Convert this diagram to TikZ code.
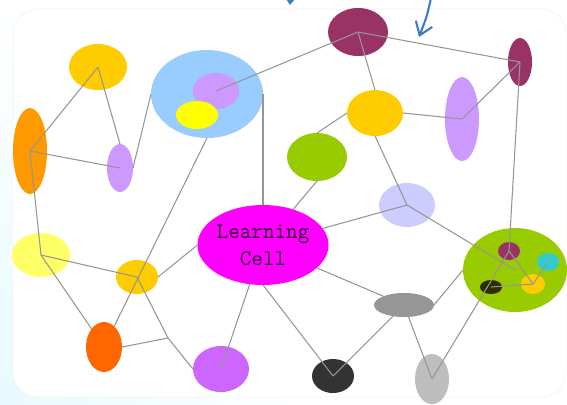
\documentclass[tikz,border=0pt]{standalone}
\usepackage{tikz}
\usetikzlibrary{shapes.geometric, arrows.meta}
\definecolor{goldc}{RGB}{255,204,0}
\definecolor{orngc}{RGB}{255,153,0}
\definecolor{lavc}{RGB}{204,153,255}
\definecolor{skyc}{RGB}{153,204,255}
\definecolor{yelc}{RGB}{255,255,0}
\definecolor{plumc}{RGB}{153,51,102}
\definecolor{limec}{RGB}{153,204,0}
\definecolor{peric}{RGB}{204,204,255}
\definecolor{magc}{RGB}{255,0,255}
\definecolor{paleyc}{RGB}{255,255,102}
\definecolor{cyanc}{RGB}{51,204,204}
\definecolor{oliveblk}{RGB}{45,45,0}
\definecolor{greyc}{RGB}{150,150,150}
\definecolor{redorc}{RGB}{255,102,0}
\definecolor{violc}{RGB}{204,102,255}
\definecolor{darkc}{RGB}{51,51,51}
\definecolor{silverc}{RGB}{190,190,190}
\definecolor{inkc}{RGB}{45,0,50}
\definecolor{linegray}{RGB}{150,150,150}
\definecolor{penblue}{RGB}{66,122,196}
\definecolor{mistc}{RGB}{232,250,254}
\tikzset{
  cell/.style={ellipse, draw=none, inner sep=0pt, outer sep=0pt},
  sz/.style 2 args={minimum width=#1*0.4mm, minimum height=#2*0.4mm},
  link/.style={draw=linegray, line width=0.6pt},
  pen/.style={-{Straight Barb[length=7pt,width=10pt]}, draw=penblue, line width=1.2pt},
  lbl/.style={font=\ttfamily\fontsize{12.8}{15.3}\selectfont, text=inkc, align=center}
}
\begin{document}
\begin{tikzpicture}[x=0.2mm, y=-0.2mm]
  \useasboundingbox (0,0) rectangle (567,404);
  \clip (0,0) rectangle (567,404);
  % backdrop
  \fill[white] (0,0) rectangle (567,404);
  \shade[top color=white, bottom color=mistc] (0,0) rectangle (60,404);
  \shade[left color=mistc, right color=white] (0,380) rectangle (300,404);
  \draw[draw=gray!8, fill=white, rounded corners=5mm] (13,9) rectangle (566,397);
  % pen marks at the top
  \coordinate (penA0) at (292,-30);
  \coordinate (penA1) at (290,5);
  \coordinate (penB0) at (431,-2);
  \coordinate (penB1) at (419,37);
  \draw[pen] (penA0) -- (penA1);
  \draw[pen] (penB0) .. controls (427,16) .. (penB1);

  % cells
  \node[cell, sz={29}{23}, fill=goldc] (goldA) at (98,67) {};
  \node[cell, sz={17}{43}, fill=orngc] (orngA) at (30,151) {};
  \node[cell, sz={13}{24}, fill=lavc] (lavA) at (120,168) {};
  \node[cell, sz={56}{44}, fill=skyc] (sky) at (207,94) {};
  \node[cell, sz={23}{18}, fill=lavc] (skyLav) at (216,91) {};
  \node[cell, sz={21}{14}, fill=yelc] (skyYel) at (197,115) {};
  \node[cell, sz={30}{24}, fill=plumc] (plumA) at (358,32) {};
  \node[cell, sz={12}{24}, fill=plumc] (plumB) at (520,62) {};
  \node[cell, sz={28}{23}, fill=goldc] (goldB) at (375,113) {};
  \node[cell, sz={17}{42}, fill=lavc] (lavB) at (462,119) {};
  \node[cell, sz={30}{24}, fill=limec] (lime) at (317,157) {};
  \node[cell, sz={28}{22}, fill=peric] (peri) at (407,205) {};
  \node[cell, sz={62}{40}, fill=magc, lbl] (lc) at (263,245) {Learning\\Cell};
  \node[cell, sz={29}{22}, fill=paleyc] (paleY) at (41,255) {};
  \node[cell, sz={21}{17}, fill=goldc] (goldC) at (137,277) {};
  \node[cell, sz={52}{42}, fill=limec] (limeBig) at (515,270) {};
  \node[cell, sz={11}{9}, fill=plumc] (limePlum) at (509,251) {};
  \node[cell, sz={11}{9}, fill=cyanc] (limeCyan) at (548,262) {};
  \node[cell, sz={12}{10}, fill=goldc] (limeGold) at (533,284) {};
  \node[cell, sz={11}{7}, fill=oliveblk] (limeBlk) at (491,287) {};
  \node[cell, sz={30}{12}, fill=greyc] (grey) at (404,305) {};
  \node[cell, sz={18}{25}, fill=redorc] (redOr) at (104,347) {};
  \node[cell, sz={28}{23}, fill=violc] (viol) at (221,369) {};
  \node[cell, sz={21}{17}, fill=darkc] (dark) at (333,376) {};
  \node[cell, sz={17}{25}, fill=silverc] (silver) at (432,379) {};
  \coordinate (fork) at (168,338);

  % links
  \draw[link] (orngA.center) -- (goldA.center);
  \draw[link] (goldA.center) -- (lavA.north);
  \draw[link] (orngA.center) -- (lavA.center);
  \draw[link] (lavA.east) -- (sky.west);
  \draw[link] (skyLav.center) -- (plumA.center);
  \draw[link] (sky.east) -- (lc.north);
  \draw[link] (sky.south) -- (redOr);
  \draw[link] (orngA.center) -- (paleY.center);
  \draw[link] (paleY.center) -- (goldC.center);
  \draw[link] (paleY.center) -- (redOr);
  \draw[link] (goldC.east) -- (lc.west);
  \draw[link] (goldC.center) -- (fork);
  \draw[link] (fork) -- (redOr.east);
  \draw[link] (fork) -- (viol.west);
  \draw[link] (viol.center) -- (lc);
  \draw[link] (lc.south) -- (dark.center);
  \draw[link] (lc) -- (grey);
  \draw[link] (grey.center) -- (dark.center);
  \draw[link] (grey.center) -- (silver.center);
  \draw[link] (silver.center) -- (limePlum.center);
  \draw[link] (grey.east) -- (limeBig.west);
  \draw[link] (lc) -- (peri.center);
  \draw[link] (peri.center) -- (limeBig.center);
  \draw[link] (goldB.south) -- (peri.center);
  \draw[link] (goldB.west) -- (lime.north);
  \draw[link] (lime.south) -- (lc);
  \draw[link] (goldB.east) -- (lavB.center);
  \draw[link] (lavB.center) -- (plumB.center);
  \draw[link] (plumA.center) -- (plumB.center);
  \draw[link] (plumA.center) -- (goldB.north);
  \draw[link] (plumB.center) -- (limePlum.center);
  \draw[link] (limePlum.center) -- (limeGold.center);
  \draw[link] (limeBlk.center) -- (limeGold.center);
  \draw[link] (limeGold.center) -- (limeCyan.center);
\end{tikzpicture}
\end{document}
